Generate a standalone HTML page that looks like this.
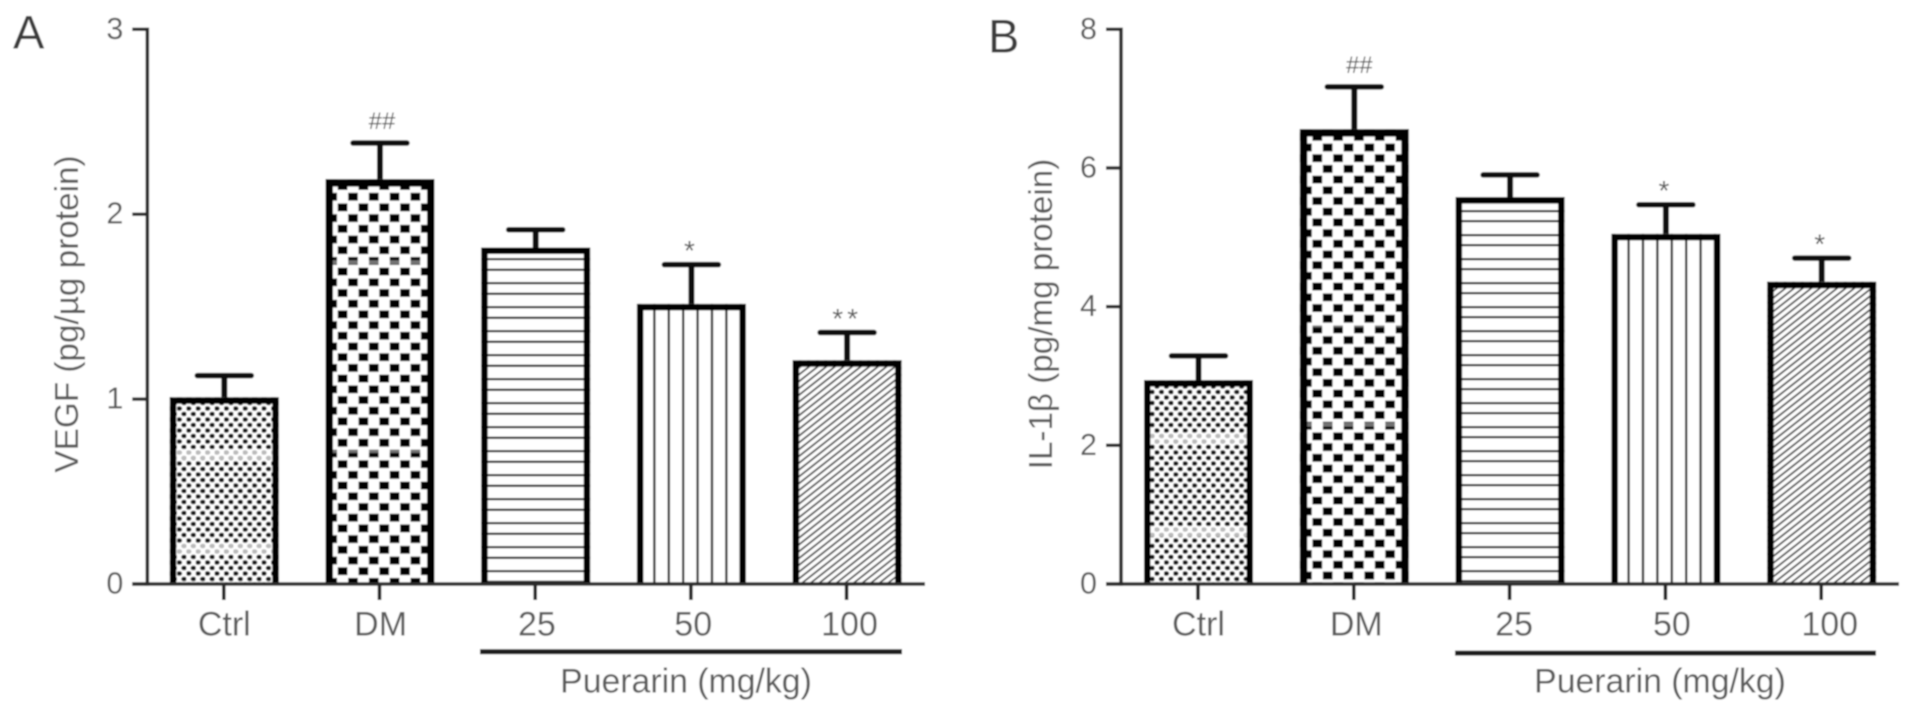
<!DOCTYPE html>
<html lang="en">
<head>
<meta charset="utf-8">
<title>VEGF and IL-1β bar charts</title>
<style>
html,body{margin:0;padding:0;background:#fff;width:1913px;height:713px;overflow:hidden}
svg{display:block}
text{font-family:"Liberation Sans",Arial,sans-serif;fill:#5a5a5a}
</style>
</head>
<body>
<svg id="chart" xmlns="http://www.w3.org/2000/svg" width="1913" height="713" viewBox="0 0 1913 713">
  <defs>
    <filter id="soft" x="-2%" y="-2%" width="104%" height="104%"><feGaussianBlur stdDeviation="0.75"/></filter>
    <pattern id="dots" patternUnits="userSpaceOnUse" width="9.4" height="11" patternTransform="translate(177,570.75)">
      <rect width="9.4" height="11" fill="#fff"/>
      <ellipse cx="2.3" cy="2.75" rx="2.8" ry="2.3" fill="#151515"/>
      <ellipse cx="7" cy="8.25" rx="2.8" ry="2.3" fill="#151515"/>
    </pattern>
    <pattern id="checkA" patternUnits="userSpaceOnUse" width="20.8" height="21.4" patternTransform="translate(348,191.4)">
      <rect width="20.8" height="21.4" fill="#fff"/>
      <rect x="0.2" y="1.4" width="9.6" height="7.8" fill="#000"/>
      <rect x="10.6" y="12.1" width="9.6" height="7.8" fill="#000"/>
    </pattern>
    <pattern id="checkB" patternUnits="userSpaceOnUse" width="20.8" height="21.4" patternTransform="translate(1322.7,142.2)">
      <rect width="20.8" height="21.4" fill="#fff"/>
      <rect x="0.2" y="1.4" width="9.6" height="7.8" fill="#000"/>
      <rect x="10.6" y="12.1" width="9.6" height="7.8" fill="#000"/>
    </pattern>
    <pattern id="hlinesA" patternUnits="userSpaceOnUse" width="10" height="24" patternTransform="translate(480,258)">
      <rect width="10" height="24" fill="#fff"/>
      <rect y="0" width="10" height="2.2" fill="#222"/>
      <rect y="10.7" width="10" height="2.2" fill="#222"/>
    </pattern>
    <pattern id="hlinesB" patternUnits="userSpaceOnUse" width="10" height="24" patternTransform="translate(1455,210)">
      <rect width="10" height="24" fill="#fff"/>
      <rect y="0" width="10" height="2.2" fill="#222"/>
      <rect y="10" width="10" height="2.2" fill="#222"/>
    </pattern>
    <pattern id="vlinesA" patternUnits="userSpaceOnUse" width="14.4" height="10" patternTransform="translate(653.2,0)">
      <rect width="14.4" height="10" fill="#fff"/>
      <rect x="0" width="2.3" height="10" fill="#2a2a2a"/>
    </pattern>
    <pattern id="vlinesB" patternUnits="userSpaceOnUse" width="14.4" height="10" patternTransform="translate(1627.4,0)">
      <rect width="14.4" height="10" fill="#fff"/>
      <rect x="0" width="2.3" height="10" fill="#2a2a2a"/>
    </pattern>
    <pattern id="diagonal" patternUnits="userSpaceOnUse" width="8.6" height="6.8">
      <rect width="8.6" height="6.8" fill="#fff"/>
      <path d="M-8.6,6.8 L8.6,-6.8 M-4.3,10.2 L12.9,-3.4 M0,13.6 L17.2,0" stroke="#3a3a3a" stroke-width="1.7" fill="none"/>
    </pattern>
  </defs>

  <g id="root" filter="url(#soft)">
    <rect x="0" y="0" width="1913" height="713" fill="#fff"/>
    <text x="13" y="48.4" font-size="47" style="fill:#3a3a3a">A</text>
    <text x="988" y="52.5" font-size="47" style="fill:#3a3a3a">B</text>
    <text transform="translate(78,314) rotate(-90)" font-size="33.3" text-anchor="middle">VEGF (pg/µg protein)</text>
    <text transform="translate(1052,314) rotate(-90)" font-size="33.2" text-anchor="middle">IL-1β (pg/mg protein)</text>
    <rect x="480" y="649.2" width="422" height="5" fill="#1a1a1a"/>
    <rect x="1455" y="650.6" width="421" height="5" fill="#1a1a1a"/>
    <text x="686" y="692.5" font-size="33.8" text-anchor="middle">Puerarin (mg/kg)</text>
    <text x="1660" y="692.5" font-size="33.8" text-anchor="middle">Puerarin (mg/kg)</text>
  </g>
</svg>
<script>
const categories = ['Ctrl', 'DM', '25', '50', '100'];
const vegfMeans = [1.01, 2.19, 1.82, 1.515, 1.21];
const vegfErrors = [0.117, 0.195, 0.096, 0.212, 0.15];
const vegfTicks = [0, 1, 2, 3];
const vegfMarks = ['', '##', '', '*', '**'];
const il1bMeans = [2.94, 6.56, 5.58, 5.05, 4.36];
const il1bErrors = [0.35, 0.61, 0.32, 0.42, 0.34];
const il1bTicks = [0, 2, 4, 6, 8];
const il1bMarks = ['', '##', '', '*', '*'];

const NS = 'http://www.w3.org/2000/svg';
const root = document.getElementById('root');

function make(tag, attrs, parent) {
  const el = document.createElementNS(NS, tag);
  for (const k in attrs) el.setAttribute(k, attrs[k]);
  parent.appendChild(el);
  return el;
}

function drawPanel(cfg) {
  const yScale = v => cfg.y0 - (v / cfg.yMax) * (cfg.y0 - cfg.yTop);
  const xScale = i => cfg.x0 + cfg.step * i;
  const g = make('g', {}, root);
  
  

  cfg.means.forEach((mean, i) => {
    const cx = xScale(i);
    const half = cfg.barWidth / 2;
    const top = yScale(mean);
    const capY = yScale(mean + cfg.errors[i]);
    const sw = i === 1 ? 7.5 : 6.5;

    const fill = make('rect', {x: cx - half, y: top, width: cfg.barWidth, height: cfg.y0 - top, fill: 'url(#' + cfg.fills[i] + ')'}, g);
    
    

    (cfg.bands[i] || []).forEach(bandValue => {
      const bh = i === 0 ? 11 : 4;
      const band = make('rect', {x: cx - half + 4, y: yScale(bandValue) - bh / 2, width: cfg.barWidth - 8, height: bh, fill: '#fff', opacity: i === 0 ? 0.7 : 0.45}, g);
      
      
    });

    const border = make('path', {d: 'M' + (cx - half + sw / 2) + ',' + cfg.y0 + ' V' + (top + sw / 2) + ' H' + (cx + half - sw / 2) + ' V' + cfg.y0, fill: 'none', stroke: '#050505', 'stroke-width': sw}, g);
    
    

    const stem = make('line', {x1: cx, x2: cx, y1: top, y2: capY, stroke: '#0a0a0a', 'stroke-width': 6}, g);
    
    

    const cap = make('line', {x1: cx - 27, x2: cx + 27, y1: capY, y2: capY, stroke: '#0a0a0a', 'stroke-width': 5.5, 'stroke-linecap': 'round'}, g);
    
    

    const tick = make('line', {x1: cx - 0.5, x2: cx - 0.5, y1: cfg.y0, y2: cfg.y0 + 16, stroke: '#222', 'stroke-width': 3.6}, g);
    
    

    const label = make('text', {x: cx + cfg.labelDrift * i, y: 635.5, 'font-size': 34, 'text-anchor': 'middle'}, g);
    label.textContent = categories[i];
    
    

    if (cfg.marks[i]) {
      const isHash = cfg.marks[i] === '##';
      const mark = make('text', {x: cx + (isHash ? cfg.hashDrift : 0), y: capY - (isHash ? 14 : 4.5), 'font-size': isHash ? 24 : 28, 'text-anchor': 'middle', 'letter-spacing': isHash ? 0 : 4}, g);
      mark.textContent = cfg.marks[i];
      
      
    }
  });

  const yAxis = make('line', {x1: cfg.axisX, x2: cfg.axisX, y1: cfg.yTop - 1.7, y2: cfg.y0 + 1.8, stroke: '#2a2a2a', 'stroke-width': 3.6}, g);
  
  

  const xAxis = make('line', {x1: cfg.axisX - 15, x2: cfg.axisEnd, y1: cfg.y0, y2: cfg.y0, stroke: '#2a2a2a', 'stroke-width': 3.6}, g);
  
  

  cfg.ticks.forEach(v => {
    const ty = yScale(v);
    const tick = make('line', {x1: cfg.axisX - 15, x2: cfg.axisX, y1: ty, y2: ty, stroke: '#2a2a2a', 'stroke-width': 3.4}, g);
    
    

    const label = make('text', {x: cfg.axisX - 24, y: ty + 9.5, 'font-size': 30.5, 'text-anchor': 'end'}, g);
    label.textContent = String(v);
    
    
  });
}

drawPanel({
  name: 'vegf', means: vegfMeans, errors: vegfErrors, ticks: vegfTicks, marks: vegfMarks,
  yMax: 3, yTop: 29.3, y0: 584, axisX: 147.3, axisEnd: 925,
  x0: 224.3, step: 155.7, barWidth: 109, labelDrift: 0.6, hashDrift: 2,
  fills: ['dots', 'checkA', 'hlinesA', 'vlinesA', 'diagonal'],
  bands: [[0.7, 0.19], [1.74, 0.72]]
});
drawPanel({
  name: 'il1b', means: il1bMeans, errors: il1bErrors, ticks: il1bTicks, marks: il1bMarks,
  yMax: 8, yTop: 29.3, y0: 584, axisX: 1121, axisEnd: 1899,
  x0: 1198.5, step: 155.8, barWidth: 109, labelDrift: 2, hashDrift: 5,
  fills: ['dots', 'checkB', 'hlinesB', 'vlinesB', 'diagonal'],
  bands: [[2.1, 0.76], [3.73, 2.3]]
});
</script>
</body>
</html>
